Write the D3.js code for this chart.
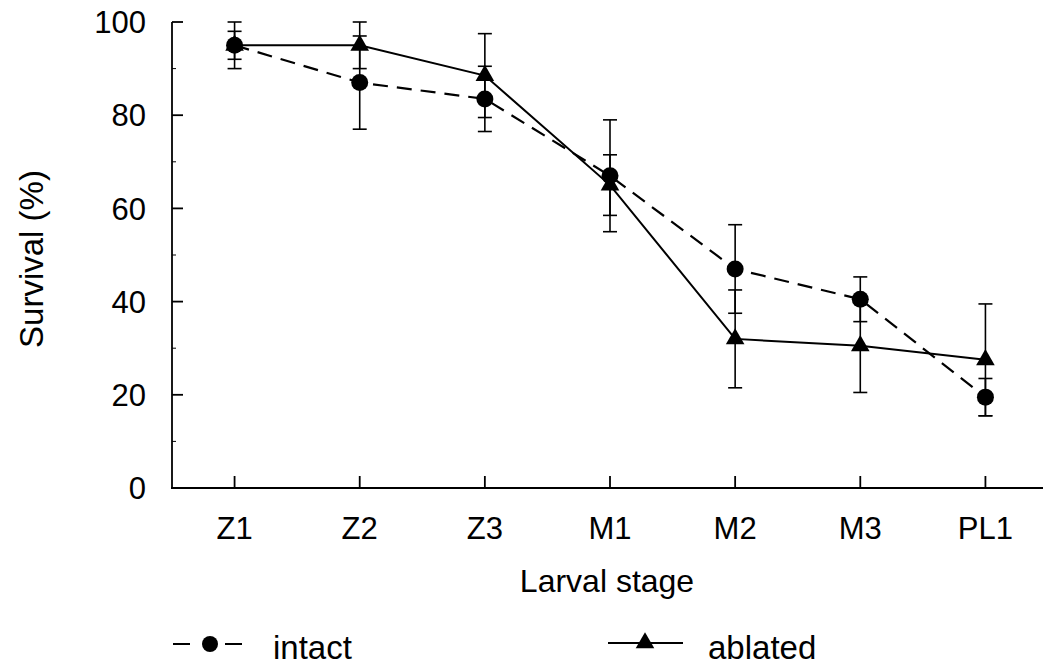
<!DOCTYPE html>
<html lang="en">
<head>
<meta charset="utf-8">
<title>Larval survival</title>
<script src="https://d3js.org/d3.v7.min.js"></script>
<style>
  html, body { margin: 0; padding: 0; background: #fff; }
  svg { display: block; }
  text { font-family: "Liberation Sans", Arial, sans-serif; fill: #000; }
</style>
</head>
<body>
<svg width="1043" height="666"></svg>
<script>
// data
const stages = ["Z1", "Z2", "Z3", "M1", "M2", "M3", "PL1"];
const intactMean = [95, 87, 83.5, 67, 47, 40.5, 19.5];
const intactErr  = [5, 10, 7, 12, 9.5, 4.8, 4];
const ablatedMean = [95, 95, 88.5, 65, 32, 30.5, 27.5];
const ablatedErr  = [3, 5, 9, 6.5, 10.5, 10, 12];
const yTicks = [0, 20, 40, 60, 80, 100];
const yMinor = [10, 30, 50, 70, 90];

const svg = d3.select("svg");

const x = d3.scaleBand().domain(stages).range([172, 1048]).padding(0);
const cx = s => x(s) + x.bandwidth() / 2;
const y = d3.scaleLinear().domain([0, 100]).range([488, 22]);

const intact = stages.map((s, i) => ({stage: s, v: intactMean[i], e: intactErr[i]}));
const ablated = stages.map((s, i) => ({stage: s, v: ablatedMean[i], e: ablatedErr[i]}));

// axes
svg.append("line")
   .attr("x1", 172).attr("x2", 172)
   .attr("y1", y(100)).attr("y2", y(0) + 1)
   .attr("stroke", "#000").attr("stroke-width", 1.8);
svg.append("line")
   .attr("x1", 171).attr("x2", 1043)
   .attr("y1", y(0)).attr("y2", y(0))
   .attr("stroke", "#000").attr("stroke-width", 1.8);

svg.selectAll(".ytick")
   .data(yTicks).enter().append("line")
   .attr("x1", 172).attr("x2", 183)
   .attr("y1", d => y(d)).attr("y2", d => y(d))
   .attr("stroke", "#000").attr("stroke-width", 1.8);
svg.selectAll(".yminor")
   .data(yMinor).enter().append("line")
   .attr("x1", 172).attr("x2", 176)
   .attr("y1", d => y(d)).attr("y2", d => y(d))
   .attr("stroke", "#000").attr("stroke-width", 1);
svg.selectAll(".ylab")
   .data(yTicks).enter().append("text")
   .attr("x", 146).attr("y", d => y(d))
   .attr("dy", "0.36em")
   .attr("text-anchor", "end")
   .style("font-size", "31px")
   .text(d => d);

svg.selectAll(".xtick")
   .data(stages).enter().append("line")
   .attr("x1", d => cx(d)).attr("x2", d => cx(d))
   .attr("y1", y(0)).attr("y2", y(0) - 12)
   .attr("stroke", "#000").attr("stroke-width", 1.8);
svg.selectAll(".xlab")
   .data(stages).enter().append("text")
   .attr("x", d => cx(d)).attr("y", 539)
   .attr("text-anchor", "middle")
   .style("font-size", "31px")
   .text(d => d);

svg.append("text")
   .attr("x", 607).attr("y", 592)
   .attr("text-anchor", "middle")
   .style("font-size", "32px")
   .text("Larval stage");

svg.append("text")
   .attr("transform", "translate(43,259) rotate(-90)")
   .attr("text-anchor", "middle")
   .style("font-size", "33px")
   .text("Survival (%)");

// error bars
function errorBars(data, cls) {
  const g = svg.append("g").attr("class", cls)
               .attr("stroke", "#000").attr("stroke-width", 1.6);
  g.selectAll(".v").data(data).enter().append("line")
   .attr("x1", d => cx(d.stage)).attr("x2", d => cx(d.stage))
   .attr("y1", d => y(d.v + d.e)).attr("y2", d => y(d.v - d.e));
  g.selectAll(".top").data(data).enter().append("line")
   .attr("x1", d => cx(d.stage) - 7).attr("x2", d => cx(d.stage) + 7)
   .attr("y1", d => y(d.v + d.e)).attr("y2", d => y(d.v + d.e));
  g.selectAll(".bot").data(data).enter().append("line")
   .attr("x1", d => cx(d.stage) - 7).attr("x2", d => cx(d.stage) + 7)
   .attr("y1", d => y(d.v - d.e)).attr("y2", d => y(d.v - d.e));
}
errorBars(intact, "err-intact");
errorBars(ablated, "err-ablated");

// lines
const line = d3.line().x(d => cx(d.stage)).y(d => y(d.v));
svg.append("path")
   .datum(intact)
   .attr("d", line)
   .attr("fill", "none").attr("stroke", "#000")
   .attr("stroke-width", 2.2).attr("stroke-dasharray", "15,9");
svg.append("path")
   .datum(ablated)
   .attr("d", line)
   .attr("fill", "none").attr("stroke", "#000")
   .attr("stroke-width", 2);

// markers
const tri = d3.symbol().type(d3.symbolTriangle).size(150);
svg.selectAll(".tri")
   .data(ablated).enter().append("path")
   .attr("d", tri)
   .attr("transform", d => `translate(${cx(d.stage)},${y(d.v)})`)
   .attr("fill", "#000");
svg.selectAll(".dot")
   .data(intact).enter().append("circle")
   .attr("cx", d => cx(d.stage)).attr("cy", d => y(d.v))
   .attr("r", 8.5).attr("fill", "#000");

// legend
svg.append("line")
   .attr("x1", 173).attr("x2", 242).attr("y1", 644).attr("y2", 644)
   .attr("stroke", "#000").attr("stroke-width", 2)
   .attr("stroke-dasharray", "17,35,17");
svg.append("circle").attr("cx", 210).attr("cy", 644).attr("r", 8).attr("fill", "#000");
svg.append("text").attr("x", 273).attr("y", 659)
   .style("font-size", "33px").text("intact");

svg.append("line")
   .attr("x1", 608).attr("x2", 683).attr("y1", 643).attr("y2", 643)
   .attr("stroke", "#000").attr("stroke-width", 1.8);
svg.append("path").attr("d", tri).attr("transform", "translate(645,643)").attr("fill", "#000");
svg.append("text").attr("x", 708).attr("y", 659)
   .style("font-size", "33px").text("ablated");
</script>
</body>
</html>
